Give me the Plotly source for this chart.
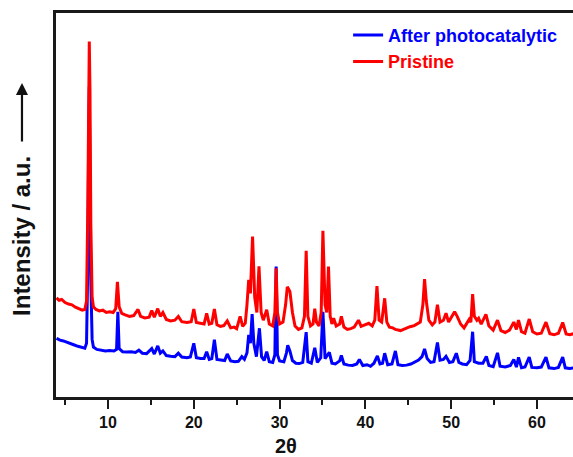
import plotly.graph_objects as go

# ---- data (2θ in degrees, intensity in arbitrary units) ----
pristine_x = [4.0, 4.3, 4.6, 5.0, 5.4, 5.8, 6.2, 6.6, 7.0, 7.3, 7.5, 7.65, 7.75, 7.82, 7.9, 8.0, 8.15, 8.3,
              8.6, 9.0, 9.4, 9.8, 10.2, 10.6, 10.9, 11.1, 11.3, 11.6, 12.0, 12.5, 13.0, 13.5, 13.8, 14.3,
              14.8, 15.1, 15.4, 15.8, 16.1, 16.4, 16.8, 17.3, 17.8, 18.2, 18.6, 19.2, 19.7, 20.0, 20.3,
              20.8, 21.2, 21.5, 21.8, 22.1, 22.4, 22.7, 23.1, 23.5, 23.9, 24.3, 24.7, 25.0, 25.4, 25.7,
              26.0, 26.2, 26.4, 26.6, 26.85, 27.1, 27.35, 27.6, 27.85, 28.1, 28.5, 28.8, 29.2, 29.45,
              29.6, 29.75, 30.0, 30.4, 30.7, 30.9, 31.2, 31.5, 31.8, 32.2, 32.6, 32.9, 33.1, 33.3, 33.6,
              33.9, 34.1, 34.3, 34.6, 34.85, 35.05, 35.3, 35.5, 35.7, 35.9, 36.1, 36.3, 36.6, 37.0, 37.2,
              37.5, 37.9, 38.3, 38.7, 39.2, 39.5, 40.0, 40.4, 40.8, 41.1, 41.35, 41.6, 41.9, 42.25, 42.5,
              42.8, 43.2, 43.5, 44.1, 44.6, 45.2, 45.7, 46.0, 46.4, 46.7, 46.9, 47.1, 47.4, 47.8, 48.1,
              48.4, 48.7, 49.1, 49.4, 49.7, 50.1, 50.4, 50.7, 51.1, 51.5, 52.1, 52.3, 52.5, 52.7, 53.0,
              53.2, 53.5, 54.05, 54.4, 54.9, 55.4, 55.8, 56.3, 56.8, 57.3, 57.6, 57.85, 58.2, 58.6, 59.1,
              59.5, 60.0, 60.5, 61.05, 61.5, 62.0, 62.5, 63.0, 63.4, 63.8, 64.3]
pristine_y = [25.8, 25.2, 25.4, 24.6, 24.2, 24.0, 23.4, 23.0, 22.6, 22.8, 25.0, 50.0, 85.0, 92.6, 80.0, 45.0, 26.0, 23.5,
              22.8, 22.4, 22.6, 22.0, 22.2, 22.0, 23.0, 30.0, 23.5, 21.8, 21.4, 21.0, 21.2, 22.8, 21.0, 20.6,
              20.8, 22.5, 20.8, 23.0, 21.0, 22.0, 20.2, 19.8, 20.0, 21.0, 19.6, 19.4, 19.6, 22.9, 19.4,
              19.2, 19.0, 21.8, 19.0, 19.2, 22.9, 18.8, 18.4, 18.6, 19.8, 18.0, 18.2, 17.8, 21.0, 18.4,
              19.2, 24.0, 30.5, 27.0, 41.8, 26.0, 22.0, 34.0, 22.0, 20.0, 22.7, 19.0, 18.5, 22.0,
              33.5, 22.0, 19.0, 19.5, 24.0, 28.7, 27.5, 22.0, 18.5, 17.6, 18.0, 21.0, 38.1, 21.0, 18.5,
              19.0, 23.0, 19.5, 18.5, 22.0, 43.3, 24.0, 22.0, 34.0, 21.0, 19.0, 20.5, 18.5, 19.0, 21.0,
              18.2, 17.6, 17.8, 18.2, 20.0, 18.4, 18.8, 19.2, 18.5, 20.0, 28.9, 20.0, 19.5, 25.7, 19.5,
              18.2, 18.0, 17.6, 17.3, 17.8, 18.3, 18.6, 19.0, 19.5, 24.0, 30.7, 25.0, 20.0, 18.8, 19.5,
              24.0, 19.5, 20.0, 21.8, 19.5, 21.0, 22.2, 21.0, 19.0, 18.0, 20.2, 19.5, 26.8, 21.0, 20.0,
              20.5, 19.0, 21.5, 18.5, 17.4, 20.0, 17.3, 16.8, 17.4, 19.5, 17.6, 20.0, 17.0, 16.6, 20.3,
              17.0, 16.4, 16.6, 19.5, 16.5, 16.2, 16.6, 19.4, 16.4, 16.2, 16.5]

after_x = [4.0, 4.4, 4.8, 5.2, 5.6, 6.0, 6.5, 7.0, 7.3, 7.5, 7.65, 7.75, 7.82, 7.9, 8.0, 8.15, 8.3, 8.7, 9.2,
           9.7, 10.2, 10.7, 11.0, 11.15, 11.3, 11.7, 12.2, 12.7, 13.2, 13.6, 14.0, 14.5, 15.1, 15.4, 15.8,
           16.1, 16.4, 16.8, 17.3, 17.8, 18.2, 18.6, 19.2, 19.6, 20.0, 20.3, 20.8, 21.2, 21.5, 21.8, 22.1,
           22.4, 22.7, 23.2, 23.6, 23.9, 24.3, 24.8, 25.2, 25.6, 25.9, 26.2, 26.4, 26.6, 26.8, 27.0, 27.3,
           27.65, 27.9, 28.2, 28.5, 28.8, 29.2, 29.45, 29.6, 29.75, 30.0, 30.5, 30.8, 30.95, 31.2, 31.5,
           31.9, 32.3, 32.7, 33.1, 33.3, 33.7, 34.1, 34.4, 34.8, 35.05, 35.3, 35.8, 36.1, 36.5, 37.0, 37.2,
           37.5, 38.0, 38.5, 39.0, 39.3, 39.7, 40.2, 40.6, 41.0, 41.4, 41.7, 42.0, 42.25, 42.6, 43.1, 43.5,
           43.8, 44.3, 44.8, 45.3, 45.8, 46.2, 46.6, 46.9, 47.2, 47.6, 48.0, 48.4, 48.7, 49.1, 49.4, 49.8,
           50.2, 50.6, 50.9, 51.3, 51.8, 52.2, 52.5, 52.7, 53.2, 53.7, 54.1, 54.4, 54.9, 55.4, 55.7, 56.3,
           56.9, 57.3, 57.6, 57.85, 58.2, 58.6, 59.1, 59.4, 60.0, 60.5, 61.05, 61.4, 62.0, 62.5, 63.0, 63.3,
           63.8, 64.3]
after_y = [15.3, 14.8, 14.6, 14.2, 13.9, 13.6, 13.2, 12.8, 12.7, 14.0, 35.0, 68.0, 80.8, 55.0, 30.0, 15.0, 13.0, 12.4, 12.2,
           12.0, 12.1, 12.0, 12.4, 22.2, 12.6, 11.8, 11.7, 11.8, 11.6, 12.2, 11.4, 11.3, 12.6, 11.2, 13.3,
           11.4, 12.0, 10.8, 10.6, 10.5, 11.4, 10.4, 10.2, 10.4, 14.0, 10.2, 10.0, 10.0, 11.8, 9.8, 10.0,
           14.9, 9.8, 9.6, 9.5, 11.2, 9.4, 9.2, 9.3, 10.5, 9.8, 11.5, 16.2, 14.0, 21.6, 14.0, 10.5,
           17.9, 10.5, 9.5, 11.8, 9.2, 9.0, 11.0, 34.0, 11.0, 9.4, 9.2, 11.5, 13.5, 12.0, 9.5,
           8.8, 8.7, 9.0, 16.9, 9.2, 8.8, 12.8, 9.0, 10.2, 22.2, 10.0, 11.6, 8.8, 8.6, 9.4, 10.8,
           8.6, 8.3, 8.2, 8.6, 9.8, 8.2, 8.4, 8.0, 8.8, 10.7, 8.6, 8.8, 11.4, 8.4, 8.6, 12.0,
           8.4, 8.2, 8.3, 8.6, 9.2, 9.6, 10.5, 12.5, 10.0, 9.0, 9.2, 14.2, 9.6, 9.8, 10.6, 9.0,
           9.2, 11.4, 9.0, 8.6, 8.4, 9.5, 17.0, 9.2, 8.8, 8.8, 10.6, 8.2, 7.9, 11.5, 8.0, 7.8,
           8.2, 9.8, 7.8, 10.3, 7.6, 7.8, 10.4, 7.7, 7.6, 7.8, 10.4, 7.6, 7.4, 7.7, 10.4, 7.6,
           7.4, 7.6]

x_tick_vals = [10, 20, 30, 40, 50, 60]
x_tick_text = ["10", "20", "30", "40", "50", "60"]

FONT = "Liberation Sans, Arial, sans-serif"

fig = go.Figure()
fig.add_trace(go.Scatter(
    x=after_x, y=after_y, mode="lines",
    name="<span style='color:#0000ff'>After photocatalytic</span>",
    line=dict(color="#0000ff", width=3)))
fig.add_trace(go.Scatter(
    x=pristine_x, y=pristine_y, mode="lines",
    name="<span style='color:#ff0000'>Pristine</span>",
    line=dict(color="#ff0000", width=3)))

fig.update_layout(
    width=573, height=457,
    margin=dict(l=56, r=0, t=13, b=60),
    paper_bgcolor="white", plot_bgcolor="white",
    font=dict(family=FONT, color="#111111"),
    showlegend=True,
    legend=dict(x=0.565, y=0.99, xanchor="left", yanchor="top",
                bgcolor="rgba(0,0,0,0)", borderwidth=0,
                font=dict(family=FONT, size=18, weight="bold"),
                tracegroupgap=0, itemwidth=30),
    xaxis=dict(
        range=[3.94, 64.2], showgrid=False, zeroline=False,
        showline=True, linecolor="#1a1a1a", linewidth=2.5, mirror=True,
        ticks="outside", tickvals=x_tick_vals, ticktext=x_tick_text,
        ticklen=9, tickwidth=2, tickcolor="#1a1a1a",
        tickfont=dict(family=FONT, size=16, color="#111111", weight="bold"),
        minor=dict(ticks="outside", dtick=5, tick0=0, ticklen=5, tickwidth=2, tickcolor="#1a1a1a"),
    ),
    yaxis=dict(
        range=[0, 100], showgrid=False, zeroline=False,
        showline=True, linecolor="#1a1a1a", linewidth=2.5, mirror=False,
        ticks="", showticklabels=False,
    ),
    annotations=[
        dict(text="2θ", xref="paper", yref="paper",
             x=0.444, y=-0.0958, xanchor="center", yanchor="top", showarrow=False,
             borderpad=0,
             font=dict(family=FONT, size=20, color="#111111", weight="bold")),
        dict(text="Intensity / a.u.", xref="paper", yref="paper",
             x=-0.068, y=0.419, xanchor="center", yanchor="middle",
             textangle=-90, showarrow=False,
             font=dict(family=FONT, size=24, color="#111111", weight="bold")),
        dict(text="", xref="paper", yref="paper", x=-0.0658, y=0.818,
             ax=0, ay=60, axref="pixel", ayref="pixel",
             showarrow=True, arrowhead=2, arrowsize=1.1, arrowwidth=2.2, arrowcolor="#111111"),
    ],
)

fig.write_html("out.html", config={"displayModeBar": False},
               post_script="document.body.style.margin='0';")
